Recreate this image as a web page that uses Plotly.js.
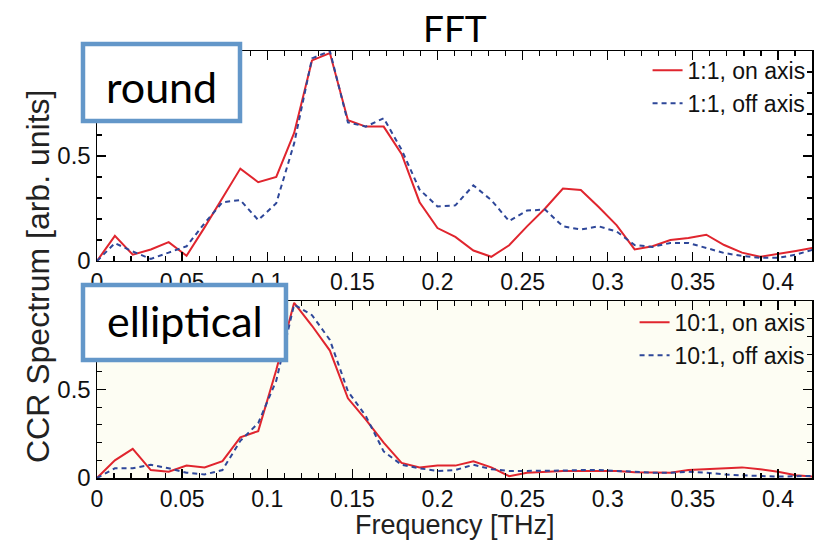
<!DOCTYPE html>
<html>
<head>
<meta charset="utf-8">
<script src="https://cdn.plot.ly/plotly-3.0.1.min.js"></script>
<style>html,body{margin:0;padding:0;background:#fff;}#chart{width:814px;height:540px;}</style>
</head>
<body>
<div id="chart"></div>
<script>
// Frequency grid [THz]
const freq = [0, 0.0105, 0.021, 0.0316, 0.0421, 0.0526, 0.0632, 0.0737, 0.0842, 0.0947,
  0.1053, 0.1158, 0.1263, 0.1368, 0.1474, 0.1579, 0.1684, 0.1789, 0.1895, 0.2,
  0.2105, 0.2211, 0.2316, 0.2421, 0.2526, 0.2632, 0.2737, 0.2842, 0.2947, 0.3053,
  0.3158, 0.3263, 0.3368, 0.3474, 0.3579, 0.3684, 0.3789, 0.3895, 0.4, 0.4105, 0.4211];

// Round beam (1:1)
const roundOn = [0, 0.12, 0.03, 0.055, 0.09, 0.025, 0.16, 0.30, 0.44, 0.375,
  0.40, 0.61, 0.955, 0.99, 0.67, 0.64, 0.64, 0.51, 0.28, 0.157,
  0.115, 0.05, 0.02, 0.075, 0.165, 0.25, 0.345, 0.338, 0.257, 0.17,
  0.055, 0.07, 0.10, 0.11, 0.125, 0.076, 0.04, 0.02, 0.033, 0.048, 0.063];
const roundOff = [0, 0.085, 0.045, 0.01, 0.04, 0.07, 0.18, 0.28, 0.29, 0.195,
  0.275, 0.56, 0.965, 1.0, 0.66, 0.64, 0.68, 0.53, 0.34, 0.26,
  0.265, 0.36, 0.29, 0.19, 0.24, 0.245, 0.165, 0.15, 0.165, 0.14,
  0.076, 0.067, 0.086, 0.086, 0.062, 0.038, 0.024, 0.015, 0.015, 0.03, 0.055];

// Elliptical beam (10:1)
const ellOn = [0, 0.10, 0.165, 0.045, 0.035, 0.07, 0.06, 0.095, 0.23, 0.265,
  0.61, 0.99, 0.86, 0.72, 0.45, 0.33, 0.20, 0.085, 0.06, 0.07,
  0.07, 0.095, 0.06, 0.01, 0.03, 0.035, 0.04, 0.04, 0.04, 0.04,
  0.033, 0.03, 0.03, 0.045, 0.05, 0.055, 0.06, 0.05, 0.035, 0.015, 0.008];
const ellOff = [0, 0.055, 0.055, 0.075, 0.055, 0.03, 0.02, 0.045, 0.21, 0.31,
  0.55, 0.98, 0.92, 0.78, 0.49, 0.35, 0.15, 0.075, 0.055, 0.04,
  0.045, 0.075, 0.05, 0.04, 0.04, 0.04, 0.042, 0.045, 0.045, 0.04,
  0.035, 0.03, 0.03, 0.035, 0.03, 0.02, 0.015, 0.01, 0.008, 0.01, 0.012];

const names = ['1:1, on axis', '1:1, off axis', '10:1, on axis', '10:1, off axis'];
const xTicks = [0, 0.05, 0.1, 0.15, 0.2, 0.25, 0.3, 0.35, 0.4];
const xTickText = ['0', '0.05', '0.1', '0.15', '0.2', '0.25', '0.3', '0.35', '0.4'];
const yTicks = [0, 0.5];
const yTickText = ['0', '0.5'];

const RED = '#e0252e';
const BLUE = '#2e4799';
const F = "'Liberation Sans', Arial, Helvetica, sans-serif";
const FB = "Lato, 'Open Sans', sans-serif";

const traces = [
  {x: freq, y: roundOn, name: names[0], mode: 'lines', line: {color: RED, width: 2}, xaxis: 'x', yaxis: 'y', legend: 'legend'},
  {x: freq, y: roundOff, name: names[1], mode: 'lines', line: {color: BLUE, width: 2, dash: '5px,4px'}, xaxis: 'x', yaxis: 'y', legend: 'legend'},
  {x: freq, y: ellOn, name: names[2], mode: 'lines', line: {color: RED, width: 2}, xaxis: 'x2', yaxis: 'y2', legend: 'legend2'},
  {x: freq, y: ellOff, name: names[3], mode: 'lines', line: {color: BLUE, width: 2, dash: '5px,4px'}, xaxis: 'x2', yaxis: 'y2', legend: 'legend2'}
];

function xax(anchor) {
  return {
    anchor: anchor, domain: [0, 1], range: [0, 0.42],
    tickmode: 'array', tickvals: xTicks, ticktext: xTickText,
    ticks: 'inside', ticklen: 9, tickwidth: 1.3, tickcolor: '#000',
    minor: {ticks: 'inside', dtick: 0.01, ticklen: 5, tickwidth: 1.2, tickcolor: '#000', showgrid: false},
    showline: true, linecolor: '#000', linewidth: 1.5, mirror: 'ticks',
    showgrid: false, zeroline: false,
    tickfont: {family: F, size: 23, color: '#111'}
  };
}
function yax(anchor, dom) {
  return {
    anchor: anchor, domain: dom, range: [0, 1],
    tickmode: 'array', tickvals: yTicks, ticktext: yTickText,
    ticks: 'inside', ticklen: 9, tickwidth: 1.3, tickcolor: '#000',
    minor: {ticks: 'inside', dtick: 0.1, ticklen: 5, tickwidth: 1.2, tickcolor: '#000', showgrid: false},
    showline: true, linecolor: '#000', linewidth: 1.5, mirror: 'ticks',
    showgrid: false, zeroline: false,
    tickfont: {family: F, size: 24, color: '#111'}
  };
}

const legendBase = {
  x: 0.998, xanchor: 'right', yanchor: 'top', bgcolor: 'rgba(0,0,0,0)',
  font: {family: F, size: 23, color: '#111'}, itemwidth: 30, tracegroupgap: 0
};

const layout = {
  width: 814, height: 540,
  margin: {l: 97, r: 2, t: 51, b: 62},
  paper_bgcolor: '#fff', plot_bgcolor: 'rgba(0,0,0,0)',
  showlegend: true,
  xaxis: xax('y'),
  yaxis: yax('x', [0.5082, 1]),
  xaxis2: xax('y2'),
  yaxis2: yax('x2', [0, 0.4145]),
  legend: Object.assign({}, legendBase, {y: 1.005}),
  legend2: Object.assign({}, legendBase, {y: 0.415}),
  shapes: [
    {type: 'rect', xref: 'x2 domain', yref: 'y2 domain', x0: 0, x1: 1, y0: 0, y1: 1,
     fillcolor: '#fdfdf3', line: {width: 0}, layer: 'below'},
    {type: 'rect', xref: 'paper', yref: 'paper', x0: -0.0196, x1: 0.2, y0: 0.836, y1: 1.0164,
     fillcolor: '#fff', line: {color: '#6397c9', width: 4.5}, layer: 'above'},
    {type: 'rect', xref: 'paper', yref: 'paper', x0: -0.0196, x1: 0.2643, y0: 0.2763, y1: 0.452,
     fillcolor: '#fff', line: {color: '#6397c9', width: 4.5}, layer: 'above'}
  ],
  annotations: [
    {text: 'FFT', xref: 'paper', yref: 'paper', x: 0.5, y: 1.054, xanchor: 'center', yanchor: 'middle',
     showarrow: false, font: {family: FB, size: 37, color: '#000'}},
    {text: 'round', xref: 'paper', yref: 'paper', x: 0.0909, y: 0.918, xanchor: 'center', yanchor: 'middle',
     showarrow: false, font: {family: FB, size: 43, color: '#000'}},
    {text: 'elliptical', xref: 'paper', yref: 'paper', x: 0.1231, y: 0.368, xanchor: 'center', yanchor: 'middle',
     showarrow: false, font: {family: FB, size: 43, color: '#000'}},
    {text: 'CCR Spectrum [arb. units]', xref: 'paper', yref: 'paper', x: -0.0825, y: 0.4707, xanchor: 'center', yanchor: 'middle',
     textangle: -90, showarrow: false, font: {family: F, size: 32, color: '#222'}},
    {text: 'Frequency [THz]', xref: 'paper', yref: 'paper', x: 0.5, y: -0.111, xanchor: 'center', yanchor: 'middle',
     showarrow: false, font: {family: F, size: 27, color: '#222'}}
  ]
};

Plotly.newPlot('chart', traces, layout, {displayModeBar: false, staticPlot: true});
</script>
</body>
</html>
